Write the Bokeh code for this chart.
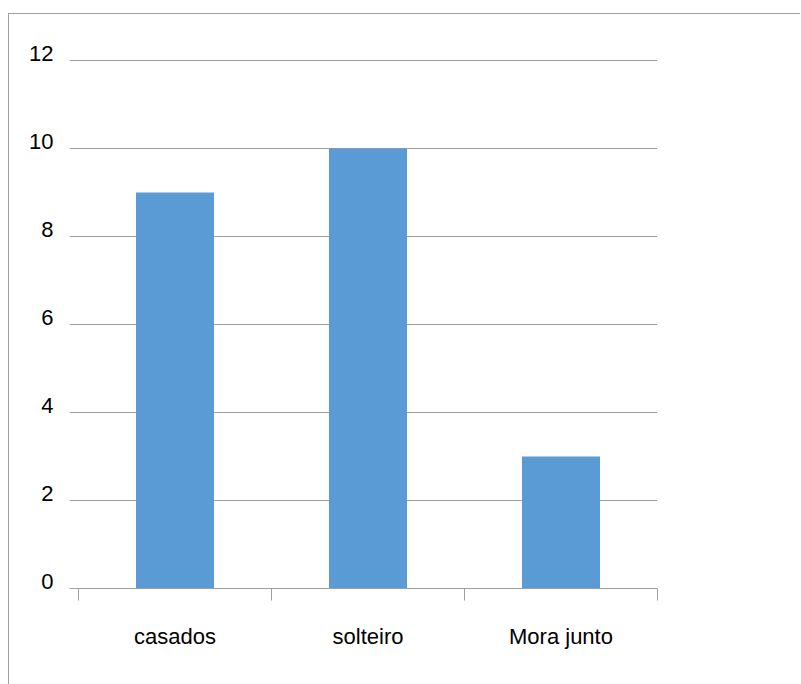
from bokeh.plotting import figure
from bokeh.models import Range1d, FixedTicker, LinearAxis
from bokeh.embed import file_html
from bokeh.resources import INLINE

categories = ["casados", "solteiro", "Mora junto"]
values = [9, 10, 3]
y_ticks = [0, 2, 4, 6, 8, 10, 12]
y_tick_labels = ["0", "2", "4", "6", "8", "10", "12"]

FONT = "Liberation Sans"
GRAY = "#a0a0a0"

x_pos = [i + 0.5 for i in range(len(categories))]
x_start = -9 / 193
y_top = 12.5
lab_shift = 7.5 / 44

p = figure(width=792, height=671,
           x_range=Range1d(x_start, len(categories)), y_range=Range1d(0, y_top),
           output_backend="svg", toolbar_location=None,
           min_border_left=60, min_border_right=144,
           min_border_top=24, min_border_bottom=97)
p.margin = (13, 0, 0, 8)
p.styles = {"border-top": "1px solid " + GRAY, "border-left": "1px solid " + GRAY}
p.outline_line_color = None
p.background_fill_color = "white"
p.border_fill_color = "white"

p.vbar(x=x_pos, top=values, width=78 / 193, color="#5B9BD5", line_color=None)

p.yaxis.visible = False
p.xgrid.visible = False
p.ygrid.ticker = FixedTicker(ticks=y_ticks[1:])
p.ygrid.grid_line_color = GRAY
p.ygrid.grid_line_width = 1

xa = p.xaxis[0]
xa.ticker = FixedTicker(ticks=x_pos, minor_ticks=list(range(len(categories) + 1)))
xa.major_label_overrides = {x: c for x, c in zip(x_pos, categories)}
xa.major_tick_out = 0
xa.major_tick_in = 0
xa.minor_tick_out = 12
xa.minor_tick_in = 0
xa.minor_tick_line_color = GRAY
xa.axis_line_color = GRAY
xa.major_label_text_font = FONT
xa.major_label_text_font_size = "22px"
xa.major_label_text_color = "black"
xa.major_label_standoff = 23

p.extra_y_ranges = {"lab": Range1d(-lab_shift, y_top - lab_shift)}
ya = LinearAxis(y_range_name="lab", ticker=FixedTicker(ticks=y_ticks, minor_ticks=[]),
                major_label_overrides={t: s for t, s in zip(y_ticks, y_tick_labels)})
ya.axis_line_color = None
ya.major_tick_line_color = None
ya.minor_tick_line_color = None
ya.major_tick_out = 0
ya.major_tick_in = 0
ya.major_label_standoff = 16
ya.major_label_text_font = FONT
ya.major_label_text_font_size = "22px"
ya.major_label_text_color = "black"
p.add_layout(ya, "left")

open("out.html", "w").write(file_html(p, INLINE))
